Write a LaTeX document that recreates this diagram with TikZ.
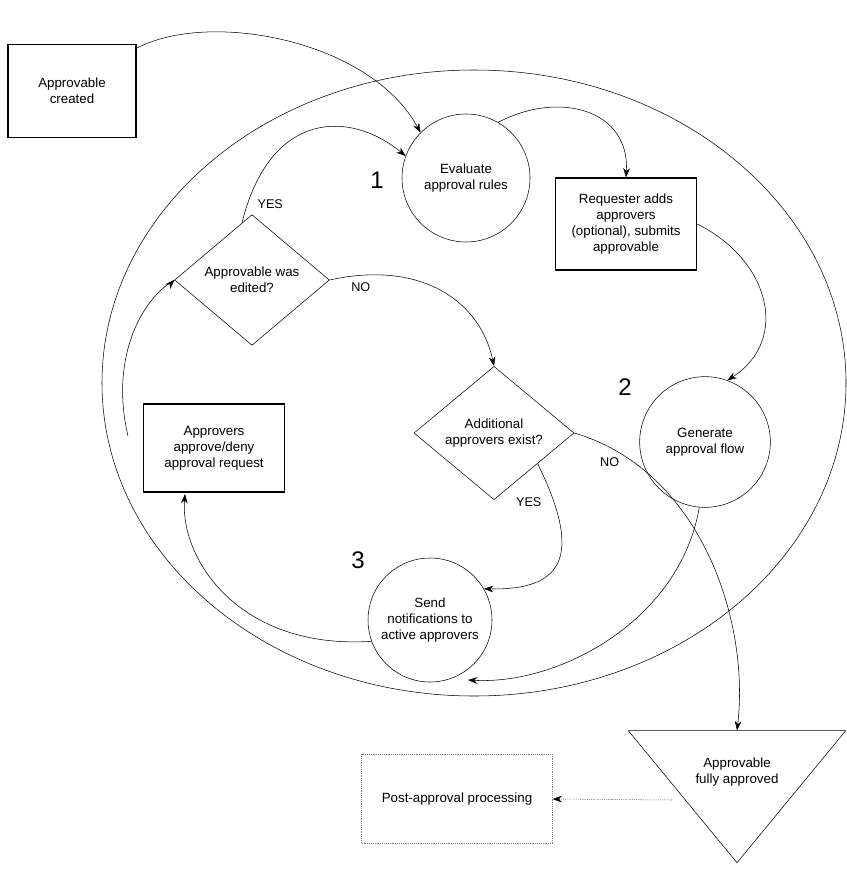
\documentclass[tikz,border=0pt]{standalone}
\usepackage{fontspec}
\setmainfont{Liberation Sans}
\usetikzlibrary{shapes.geometric,arrows.meta}
\begin{document}
\begin{tikzpicture}[x=0.75pt,y=-0.75pt,
  txt/.style={font=\fontsize{10}{12}\selectfont,align=center},
  circ/.style={draw,circle,txt,minimum size=96pt,inner sep=0pt},
  arr/.style={-{Stealth[length=7pt,width=5pt]}},
  lbl/.style={font=\fontsize{9.5}{11}\selectfont},
  big/.style={font=\fontsize{18}{20}\selectfont}]
\useasboundingbox (0,0) rectangle (846,870);
\draw (474,383) ellipse [x radius=372, y radius=313];
\node[draw,thick,txt,minimum width=96pt,minimum height=70pt] (created) at (72,91) {Approvable\\created};
\node[circ] (eval) at (466,178) {Evaluate\\approval rules};
\node[draw,thick,txt,minimum width=106pt,minimum height=69pt] (req) at (626,224) {Requester adds\\approvers\\(optional), submits\\approvable};
\node[draw,diamond,txt,minimum width=116pt,minimum height=98pt,inner sep=0pt] (edited) at (252,280) {Approvable was\\edited?};
\node[draw,diamond,txt,minimum width=120pt,minimum height=100pt,inner sep=0pt] (addl) at (494,433) {Additional\\approvers exist?};
\node[circ,minimum size=98pt] (gen) at (705,442) {Generate\\approval flow};
\node[draw,thick,txt,minimum width=106pt,minimum height=66pt] (appr) at (214,448) {Approvers\\approve/deny\\approval request};
\node[circ,minimum size=93pt] (send) at (430,620) {Send\\notifications to\\active approvers};
\node[draw,isosceles triangle,shape border rotate=-90,isosceles triangle stretches,minimum width=163pt,minimum height=99pt,inner sep=0pt] (tri) at (737,782) {};
\node[txt] (tritxt) at (737,772) {Approvable\\fully approved};
\node[draw,densely dotted,gray,minimum width=143pt,minimum height=67pt,txt,text=black] (post) at (457,799) {Post-approval processing};
\node[big] (n1) at (377,180) {1};
\node[big] (n2) at (625,387) {2};
\node[big] (n3) at (358,560) {3};
\coordinate (c1) at (137,48);
\coordinate (apprB) at (185,494);
\coordinate (apprL) at (128,436);
\coordinate (sendBR) at (468,680);
\coordinate (triS) at (672,800);
\draw[arr] (c1) .. controls (210,10) and (370,40) .. (eval.135);
\draw[arr] (eval.60) .. controls (560,90) and (630,110) .. (req.north);
\draw[arr] (req.east) .. controls (770,260) and (790,340) .. (gen.70);
\draw[arr] (gen.-95) .. controls (680,620) and (560,685) .. (sendBR);
\draw[arr] (send.200) .. controls (240,650) and (180,560) .. (apprB);
\draw (apprL) .. controls (110,360) and (140,300) .. (edited.west);
\draw[arr] (edited.west) ++(-0.1,0.1) -- (edited.west);
\draw[arr] (edited.100) .. controls (270,110) and (350,110) .. (eval.160) node[pos=0.06,right,lbl,xshift=4pt] {YES};
\draw[arr] (edited.east) .. controls (420,260) and (480,300) .. (addl.north) node[pos=0.12,below,lbl,yshift=-2pt] {NO};
\draw[arr] (addl.-35) .. controls (585,560) and (560,590) .. (send.30) node[pos=0.15,left,lbl,xshift=-6pt] {YES};
\draw[arr] (addl.east) .. controls (700,470) and (750,620) .. (tri.north) node[pos=0.1,below,lbl,yshift=-4pt] {NO};
\draw[arr,densely dotted] (triS) -- (post.east);
\end{tikzpicture}
\end{document}
